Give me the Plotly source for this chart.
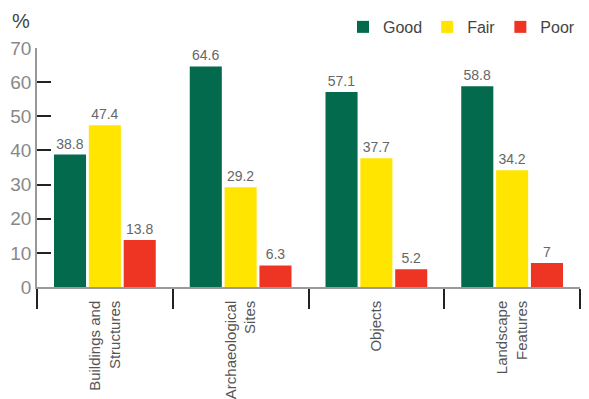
import plotly.graph_objects as go

categories = ["Buildings and<br>Structures", "Archaeological<br>Sites", "Objects", "Landscape<br>Features"]
good = [38.8, 64.6, 57.1, 58.8]
fair = [47.4, 29.2, 37.7, 34.2]
poor = [13.8, 6.3, 5.2, 7]
labels_good = ["38.8", "64.6", "57.1", "58.8"]
labels_fair = ["47.4", "29.2", "37.7", "34.2"]
labels_poor = ["13.8", "6.3", "5.2", "7"]
yticks = [0, 10, 20, 30, 40, 50, 60, 70]

label_font = dict(family="Liberation Sans Narrow, Arial Narrow, Liberation Sans, sans-serif", size=14, color="#666666")

fig = go.Figure()
for name, vals, labs, col in [("Good", good, labels_good, "#046A4E"),
                              ("Fair", fair, labels_fair, "#FFE500"),
                              ("Poor", poor, labels_poor, "#EE3524")]:
    fig.add_trace(go.Bar(x=categories, y=vals, name=name, marker_color=col,
                         marker_line_width=0, text=labs, textposition="outside",
                         textfont=label_font, cliponaxis=False))

fig.update_layout(
    width=589, height=399,
    margin=dict(l=29, r=17, t=40, b=120, autoexpand=False),
    plot_bgcolor="white", paper_bgcolor="white",
    barmode="group", bargap=0.23, bargroupgap=0.08,
    font=dict(family="Liberation Sans, Arial, sans-serif", color="#555555"),
    legend=dict(orientation="h", x=1.0, xanchor="right", y=1.088, yanchor="middle",
                font=dict(size=16, color="#444444"), itemwidth=30, traceorder="normal"),
    showlegend=True,
)
fig.update_yaxes(range=[0, 70], tickvals=yticks, showgrid=False, zeroline=False,
                 showline=True, linecolor="#999999", linewidth=1.5,
                 ticks="inside", ticklen=14, tickcolor="#222222", tickwidth=1.5,
                 tickfont=dict(size=19, color="#888888"), ticklabelstandoff=0)
fig.update_xaxes(showgrid=False, zeroline=False, showline=True, linecolor="#999999", linewidth=1.5,
                 ticks="outside", tickson="boundaries", ticklen=20, tickcolor="#222222", tickwidth=1.5,
                 tickangle=-90, tickfont=dict(size=15, color="#555555"), ticklabelstandoff=6)
fig.add_annotation(text="%", xref="paper", yref="paper", x=-0.05, y=1.06, xanchor="left", yanchor="bottom",
                   showarrow=False, font=dict(size=20, color="#444444"))

fig.write_html("out.html")
